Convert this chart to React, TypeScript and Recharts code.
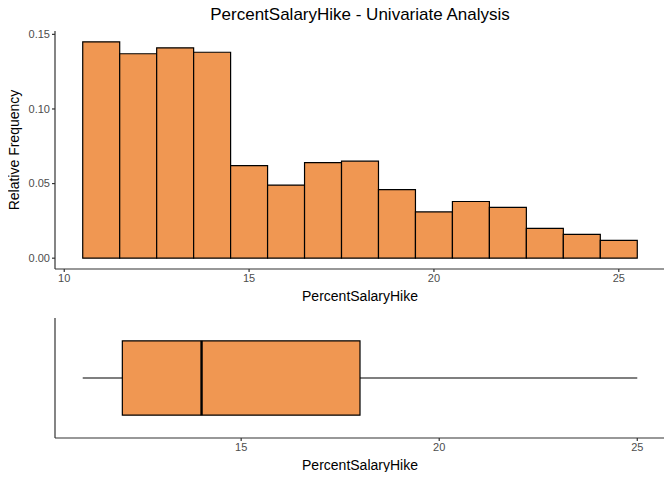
import React from "react";
import { ComposedChart, XAxis, YAxis, ReferenceArea, ReferenceLine } from "recharts";

const binStarts = [10.5, 11.5, 12.5, 13.5, 14.5, 15.5, 16.5, 17.5, 18.5, 19.5, 20.5, 21.5, 22.5, 23.5, 24.5];
const relFreq = [0.145, 0.137, 0.141, 0.138, 0.062, 0.049, 0.064, 0.065, 0.046, 0.031, 0.038, 0.034, 0.020, 0.016, 0.012];
const xTicks = [10, 15, 20, 25];
const yTicks = [0, 0.05, 0.1, 0.15];
const boxTicks = [15, 20, 25];
// min, q1, median, q3, max
const boxStats = [11, 12, 14, 18, 25];

const FILL = "#f09752";
const FONT = "'Liberation Sans', Arial, sans-serif";
const tickStyle = { fontSize: 11, fill: "#4d4d4d", fontFamily: FONT };
const axisLine = { stroke: "#333", strokeWidth: 1.2 };

export default function App() {
  const [mn, q1, med, q3, mx] = boxStats;
  return (
    <div style={{ position: "relative", width: 672, height: 480, margin: -8, background: "#fff", fontFamily: FONT }}>
      <div style={{ position: "absolute", top: 5, left: 55, width: 610, textAlign: "center", fontSize: 17, color: "#000" }}>
        PercentSalaryHike - Univariate Analysis
      </div>
      <div
        style={{
          position: "absolute", left: 14, top: 150, fontSize: 14, transform: "translate(-50%,-50%) rotate(-90deg)", whiteSpace: "nowrap",
        }}
      >
        Relative Frequency
      </div>
      <div style={{ position: "absolute", top: 288, left: 55, width: 610, textAlign: "center", fontSize: 14 }}>PercentSalaryHike</div>
      <div style={{ position: "absolute", top: 457, left: 55, width: 610, textAlign: "center", fontSize: 14 }}>PercentSalaryHike</div>

      <div style={{ position: "absolute", top: 0, left: 0 }}>
        <ComposedChart width={672} height={300} data={[]} margin={{ top: 31, right: 7, bottom: 11, left: 10 }}>
          <XAxis
            type="number" dataKey="x" domain={[9.75, 26.25]} ticks={xTicks} allowDataOverflow
            tick={tickStyle} tickLine={axisLine} axisLine={axisLine} tickSize={3} height={20}
          />
          <YAxis
            type="number" domain={[-0.00725, 0.15225]} ticks={yTicks} allowDataOverflow
            tickFormatter={(v: number) => v.toFixed(2)}
            tick={tickStyle} tickLine={axisLine} axisLine={axisLine} tickSize={3} width={45}
          />
          {binStarts.map((s, i) => (
            <ReferenceArea key={i} x1={s} x2={s + 1} y1={0} y2={relFreq[i]} fill={FILL} fillOpacity={1} stroke="#000" strokeWidth={1.2} ifOverflow="visible" />
          ))}
        </ComposedChart>
      </div>

      <div style={{ position: "absolute", top: 300, left: 0 }}>
        <ComposedChart width={672} height={180} data={[]} margin={{ top: 18, right: 7, bottom: 22, left: 10 }}>
          <XAxis
            type="number" dataKey="x" domain={[10.3, 25.7]} ticks={boxTicks} allowDataOverflow
            tick={tickStyle} tickLine={axisLine} axisLine={axisLine} tickSize={3} height={20}
          />
          <YAxis
            type="number" domain={[0, 1]} ticks={[0, 1]} allowDataOverflow
            tick={() => <g />} tickLine={false} axisLine={axisLine} width={45}
          />
          <ReferenceLine segment={[{ x: mn, y: 0.5 }, { x: q1, y: 0.5 }]} stroke="#000" strokeWidth={1.2} />
          <ReferenceLine segment={[{ x: q3, y: 0.5 }, { x: mx, y: 0.5 }]} stroke="#000" strokeWidth={1.2} />
          <ReferenceArea x1={q1} x2={q3} y1={0.19} y2={0.81} fill={FILL} fillOpacity={1} stroke="#000" strokeWidth={1.2} />
          <ReferenceLine segment={[{ x: med, y: 0.19 }, { x: med, y: 0.81 }]} stroke="#000" strokeWidth={2.4} />
        </ComposedChart>
      </div>
    </div>
  );
}
